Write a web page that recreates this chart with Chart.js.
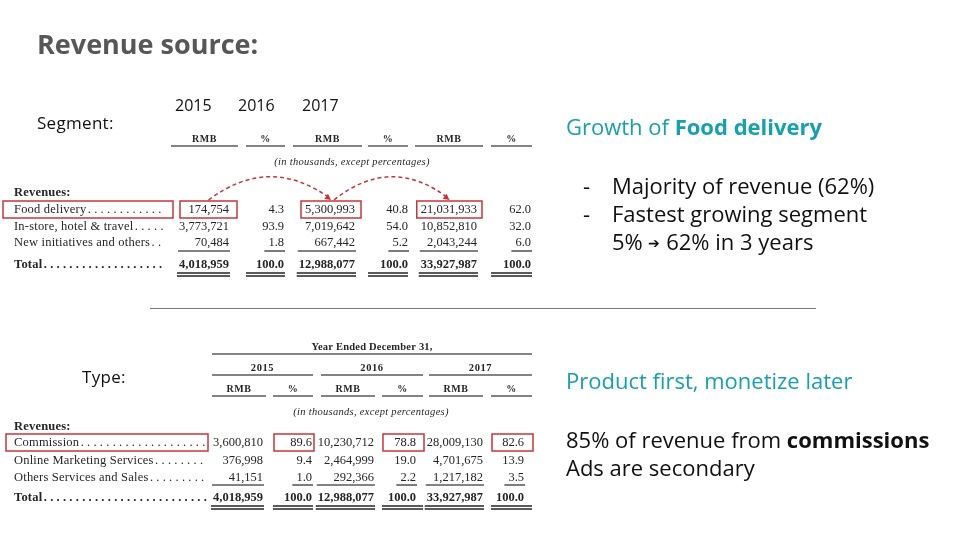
<!DOCTYPE html>
<html>
<head>
<meta charset="utf-8">
<script src="https://cdn.jsdelivr.net/npm/chart.js@4.4.0/dist/chart.umd.min.js"></script>
<style>
  body { margin: 0; width: 960px; height: 540px; overflow: hidden; background: #fff; position: relative; font-family: "Open Sans", Lato, sans-serif; }
  #slide { position: absolute; left: 0; top: 0; }
  .t { position: absolute; white-space: nowrap; line-height: 1; }
  .teal { color: #17a0ae; }
  .body { font-size: 22px; color: #111; }
</style>
</head>
<body>
<canvas id="slide" width="960" height="540"></canvas>

<div class="t" style="left:37px;top:30px;font-size:27px;font-weight:700;color:#575757">Revenue source:</div>
<div class="t" style="left:175px;top:97px;font-size:16px;color:#111">2015</div>
<div class="t" style="left:238px;top:97px;font-size:16px;color:#111">2016</div>
<div class="t" style="left:302px;top:97px;font-size:16px;color:#111">2017</div>
<div class="t" style="left:37px;top:114px;font-size:17px;letter-spacing:0.3px;color:#111">Segment:</div>
<div class="t" style="left:82px;top:368px;font-size:17px;letter-spacing:0.3px;color:#111">Type:</div>

<div class="t teal" style="left:566px;top:115px;font-size:22px">Growth of <b>Food delivery</b></div>
<div class="t body" style="left:583px;top:174px">-</div>
<div class="t body" style="left:612px;top:174px">Majority of revenue (62%)</div>
<div class="t body" style="left:583px;top:202px">-</div>
<div class="t body" style="left:612px;top:202px">Fastest growing segment</div>
<div class="t body" style="left:612px;top:230px">5% <span style="font-size:14px;vertical-align:2px">&#x2794;</span> 62% in 3 years</div>

<div class="t teal" style="left:566px;top:369px;font-size:22px">Product first, monetize later</div>
<div class="t body" style="left:566px;top:428px">85% of revenue from <b>commissions</b></div>
<div class="t body" style="left:566px;top:456px">Ads are secondary</div>

<script>
// table values (RMB in thousands, %)
var years = ['2015', '2016', '2017'];
var units = ['RMB', '%', 'RMB', '%', 'RMB', '%'];

var segments = ['Food delivery', 'In-store, hotel & travel', 'New initiatives and others'];
var segRmb2015 = [174754, 3773721, 70484];
var segPct2015 = [4.3, 93.9, 1.8];
var segRmb2016 = [5300993, 7019642, 667442];
var segPct2016 = [40.8, 54.0, 5.2];
var segRmb2017 = [21031933, 10852810, 2043244];
var segPct2017 = [62.0, 32.0, 6.0];
var segTotals = [4018959, 100.0, 12988077, 100.0, 33927987, 100.0];

var types = ['Commission', 'Online Marketing Services', 'Others Services and Sales'];
var typeRmb2015 = [3600810, 376998, 41151];
var typePct2015 = [89.6, 9.4, 1.0];
var typeRmb2016 = [10230712, 2464999, 292366];
var typePct2016 = [78.8, 19.0, 2.2];
var typeRmb2017 = [28009130, 4701675, 1217182];
var typePct2017 = [82.6, 13.9, 3.5];
var typeTotals = [4018959, 100.0, 12988077, 100.0, 33927987, 100.0];

//  layout of the two tables, in slide units (the chart scales run 0..960 and 0..540)
var ink = '#262626';
var rule = '#5a5a5a';
var red = '#c9343b';
var serif = '"Liberation Serif", "DejaVu Serif", serif';

var segLayout = {
  labelX: 14, dotsEnd: 164,
  colRight: [229, 284, 355, 408, 477, 531],
  heads: [[171, 238], [246, 285], [293, 362], [368, 408], [415, 483], [491, 532]],
  unitY: 139, unitLineY: 146,
  noteX: 352, noteY: 162,
  revY: 193, rowY: [210, 227, 243], totalY: 265,
  subLineY: 251, dblLineY: 273,
  labelBox: [3, 173],
  hiCols: [0, 2, 4],
  arrows: [[0, 2], [2, 4]]
};
var typeLayout = {
  labelX: 14, dotsEnd: 206,
  colRight: [263, 312, 374, 416, 483, 524],
  heads: [[212, 266], [273, 313], [321, 375], [382, 423], [429, 483], [491, 532]],
  yearLines: [[212, 313], [321, 423], [429, 532]],
  titleY: 347, topLineY: 354, yearY: 368, yearLineY: 375,
  unitY: 389, unitLineY: 396,
  noteX: 371, noteY: 412,
  revY: 427, rowY: [443, 461, 478], totalY: 498,
  subLineY: 485, dblLineY: 506,
  labelBox: [6, 208],
  hiCols: [1, 3, 5],
  arrows: []
};

function fmt(v, col) {
  return units[col] === '%' ? v.toFixed(1) : v.toLocaleString('en-US');
}

function drawTable(ctx, px, py, labels, cols, totals, L) {
  var f13 = '12.5px ' + serif;
  var b13 = 'bold 12.5px ' + serif;
  var b10 = 'bold 10px ' + serif;
  ctx.save();
  ctx.textBaseline = 'middle';
  ctx.fillStyle = ink;
  ctx.strokeStyle = rule;
  ctx.lineWidth = 1.6;

  function hline(x1, x2, y) {
    ctx.beginPath();
    ctx.moveTo(px(x1), py(y));
    ctx.lineTo(px(x2), py(y));
    ctx.stroke();
  }
  function text(s, x, y, align, font, spacing) {
    ctx.font = font;
    ctx.letterSpacing = spacing || '0px';
    ctx.textAlign = align;
    ctx.fillText(s, px(x), py(y));
  }
  function width(s, font) {
    ctx.font = font;
    ctx.letterSpacing = '0px';
    return ctx.measureText(s).width;
  }

  // caption rows above the units
  if (L.yearLines) {
    var mid = (L.heads[0][0] + L.heads[5][1]) / 2;
    text('Year Ended December 31,', mid, L.titleY, 'center', 'bold 10.5px ' + serif, '0.2px');
    hline(L.heads[0][0], L.heads[5][1], L.topLineY);
    L.yearLines.forEach(function (s, i) {
      text(years[i], (s[0] + s[1]) / 2, L.yearY, 'center', 'bold 10.5px ' + serif, '0.6px');
      hline(s[0], s[1], L.yearLineY);
    });
  }
  units.forEach(function (u, i) {
    var s = L.heads[i];
    text(u, (s[0] + s[1]) / 2, L.unitY, 'center', b10, '0.5px');
    hline(s[0], s[1], L.unitLineY);
  });
  text('(in thousands, except percentages)', L.noteX, L.noteY, 'center', 'italic 10.5px ' + serif, '0.3px');
  text('Revenues:', L.labelX, L.revY, 'left', b13, '0.2px');

  // row labels with dot leaders
  function leader(label, y, font) {
    text(label, L.labelX, y, 'left', font, '0.2px');
    var x = L.labelX + width(label, font) + label.length * 0.2 + 3;
    ctx.font = font;
    ctx.letterSpacing = '0px';
    ctx.textAlign = 'center';
    for (; x < L.dotsEnd; x += 6.4) ctx.fillText('.', px(x), py(y));
  }
  labels.forEach(function (lab, r) { leader(lab, L.rowY[r], f13); });
  leader('Total', L.totalY, b13);

  // cells
  cols.forEach(function (col, c) {
    var right = L.colRight[c];
    col.forEach(function (v, r) {
      text(fmt(v, c), right, L.rowY[r], 'right', f13);
    });
    var last = fmt(col[col.length - 1], c);
    var tot = fmt(totals[c], c);
    text(tot, right, L.totalY, 'right', b13);
    var isPct = units[c] === '%';
    var wSub = isPct ? width(last, f13) + 4 : Math.max(width(tot, b13), width(last, f13)) + 1;
    hline(right - wSub, right + 1, L.subLineY);
    var d = isPct ? L.heads[c] : [right - width(tot, b13) - 2, right + 1];
    ctx.lineWidth = 1.8;
    hline(d[0], d[1], L.dblLineY);
    hline(d[0], d[1], L.dblLineY + 3);
    ctx.lineWidth = 1.6;
  });

  // red highlight boxes
  ctx.strokeStyle = red;
  ctx.lineWidth = 1.5;
  var y0 = L.rowY[0];
  function box(x1, x2) {
    ctx.strokeRect(px(x1), py(y0 - 9), px(x2) - px(x1), py(y0 + 8) - py(y0 - 9));
  }
  box(L.labelBox[0], L.labelBox[1]);
  var boxes = {};
  L.hiCols.forEach(function (c) {
    var s = fmt(cols[c][0], c);
    var h = L.heads[c];
    var x1, x2;
    if (units[c] === '%') { x1 = h[0] + 1; x2 = h[1] + 1; }
    else { x1 = Math.min(L.colRight[c] - width(s, f13) - 4, h[0] + 9); x2 = h[1] - 1; }
    boxes[c] = [x1, x2];
    box(x1, x2);
  });

  // dashed growth arrows from box to box
  ctx.setLineDash([4, 3]);
  L.arrows.forEach(function (a, k) {
    var sx = (boxes[a[0]][0] + boxes[a[0]][1]) / 2 + (k ? 3 : 0);
    var ex = (boxes[a[1]][0] + boxes[a[1]][1]) / 2;
    var sy = y0 - 10, ey = y0 - 11;
    var cx = (sx + ex) / 2, cy = y0 - 56;
    ctx.beginPath();
    ctx.moveTo(px(sx), py(sy));
    ctx.quadraticCurveTo(px(cx), py(cy), px(ex), py(ey));
    ctx.stroke();
    // arrow head along the curve's end tangent
    var ang = Math.atan2(py(ey) - py(cy), px(ex) - px(cx));
    ctx.save();
    ctx.setLineDash([]);
    ctx.fillStyle = red;
    ctx.translate(px(ex), py(ey + 1));
    ctx.rotate(ang);
    ctx.beginPath();
    ctx.moveTo(0, 0);
    ctx.lineTo(-6, -3.2);
    ctx.lineTo(-6, 3.2);
    ctx.closePath();
    ctx.fill();
    ctx.restore();
  });
  ctx.restore();
}

var tablesPlugin = {
  id: 'tables',
  afterDraw: function (chart) {
    var sx = chart.scales.x, sy = chart.scales.y;
    var px = function (v) { return sx.getPixelForValue(v); };
    var py = function (v) { return sy.getPixelForValue(v); };
    var ctx = chart.ctx;
    drawTable(ctx, px, py, segments,
      [segRmb2015, segPct2015, segRmb2016, segPct2016, segRmb2017, segPct2017], segTotals, segLayout);
    drawTable(ctx, px, py, types,
      [typeRmb2015, typePct2015, typeRmb2016, typePct2016, typeRmb2017, typePct2017], typeTotals, typeLayout);
    // divider between the two excerpts
    ctx.save();
    ctx.strokeStyle = '#7a7a7a';
    ctx.lineWidth = 1;
    ctx.beginPath();
    ctx.moveTo(px(150), py(308.5));
    ctx.lineTo(px(816), py(308.5));
    ctx.stroke();
    ctx.restore();
  }
};

new Chart(document.getElementById('slide'), {
  type: 'scatter',
  data: { datasets: [{ data: [], pointRadius: 0 }] },
  options: {
    responsive: false,
    animation: false,
    layout: { padding: 0 },
    plugins: { legend: { display: false }, tooltip: { enabled: false } },
    scales: {
      x: { type: 'linear', min: 0, max: 960, display: false },
      y: { type: 'linear', min: 0, max: 540, reverse: true, display: false }
    }
  },
  plugins: [tablesPlugin]
});
</script>
</body>
</html>
